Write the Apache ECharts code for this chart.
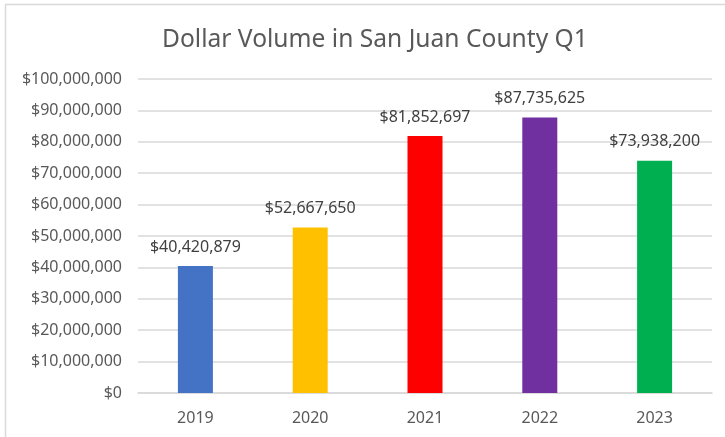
<!DOCTYPE html>
<html>
<head>
<meta charset="utf-8">
<title>Dollar Volume in San Juan County Q1</title>
<script src="https://cdn.jsdelivr.net/npm/echarts@6/dist/echarts.min.js"></script>
<style>
  html, body { margin: 0; padding: 0; background: #fff; }
  #chart { width: 725px; height: 437px; }
</style>
</head>
<body>
<div id="chart"></div>
<script>
// Data
const years = ["2019", "2020", "2021", "2022", "2023"];
const dollarVolume = [40420879, 52667650, 81852697, 87735625, 73938200];
const barColors = ["#4472C4", "#FFC000", "#FF0000", "#7030A0", "#00B050"];

const FONT = "'Noto Sans', sans-serif";

// $12,345,678 style
function money(v) {
  return "$" + Math.round(v).toLocaleString("en-US");
}

const chart = echarts.init(document.getElementById("chart"));

chart.setOption({
  animation: false,
  backgroundColor: "#fff",
  textStyle: { fontFamily: FONT },

  // thin light frame round the whole chart, as in the Excel export
  graphic: [{
    type: "rect",
    shape: { x: 5.5, y: 4.5, width: 740, height: 450 },
    style: { fill: "none", stroke: "#d9d9d9", lineWidth: 1.5 },
    silent: true
  }],

  title: {
    text: "Dollar Volume in San Juan County Q1",
    left: 157,
    top: 22,
    textStyle: {
      fontFamily: FONT,
      fontSize: 24.6,
      fontWeight: "normal",
      color: "#595959"
    }
  },

  grid: {
    left: 138,
    right: 13,
    top: 79,
    bottom: 44
  },

  xAxis: {
    type: "category",
    data: years,
    axisTick: { show: false },
    axisLine: { lineStyle: { color: "#d9d9d9", width: 1.5 } },
    axisLabel: {
      margin: 17,
      fontSize: 16,
      color: "#595959",
      fontFamily: FONT
    }
  },

  yAxis: {
    type: "value",
    min: 0,
    max: 100000000,
    interval: 10000000,
    axisLine: { show: false },
    axisTick: { show: false },
    splitLine: { lineStyle: { color: "#d9d9d9", width: 1.5 } },
    axisLabel: {
      margin: 16,
      fontSize: 16,
      color: "#595959",
      fontFamily: FONT,
      formatter: money
    }
  },

  series: [{
    type: "bar",
    barWidth: 35,
    data: dollarVolume.map((v, i) => ({
      value: v,
      itemStyle: { color: barColors[i] }
    })),
    label: {
      show: true,
      position: "top",
      distance: 11,
      fontSize: 16,
      color: "#404040",
      fontFamily: FONT,
      formatter: p => money(p.value)
    }
  }]
});
</script>
</body>
</html>
